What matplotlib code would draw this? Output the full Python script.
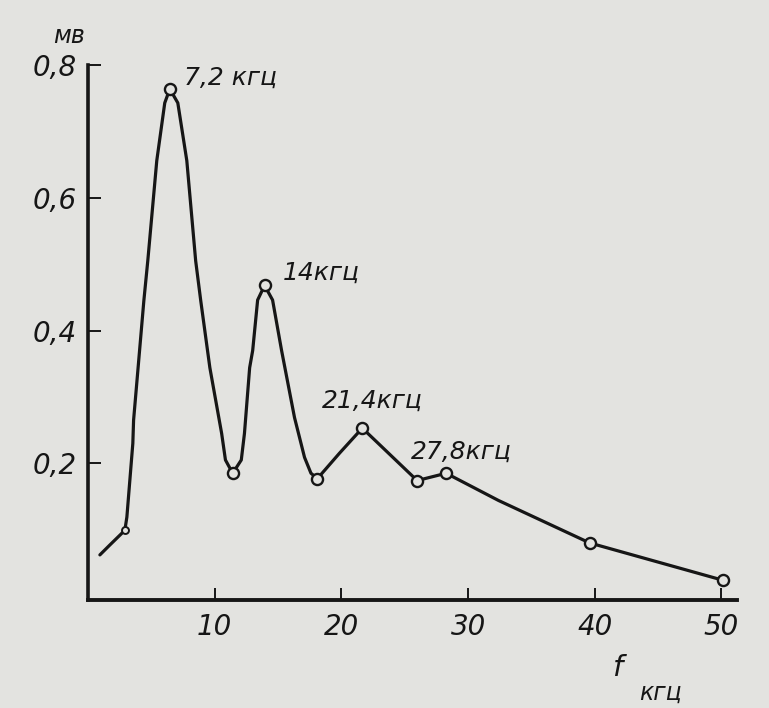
import matplotlib.pyplot as plt

# traced curve (kHz, mV)
curve_f = [0.94, 1.73, 2.91, 3.07, 3.54, 3.6, 4.41, 4.72, 5.43, 6.06, 6.46, 7.09, 7.80, 8.50,
           8.90, 9.62, 10.55, 10.85, 11.42, 12.10, 12.35, 12.76, 13.0, 13.39, 13.94, 14.57,
           15.28, 16.30, 17.09, 17.6, 18.11, 19.84, 21.65, 25.98, 28.27, 32.4, 39.6, 50.08]
curve_u = [0.062, 0.077, 0.099, 0.119, 0.230, 0.265, 0.445, 0.505, 0.656, 0.743, 0.764, 0.743, 0.656, 0.505,
           0.445, 0.344, 0.245, 0.205, 0.185, 0.205, 0.245, 0.344, 0.370, 0.446, 0.468, 0.446,
           0.370, 0.269, 0.209, 0.185, 0.177, 0.215, 0.253, 0.174, 0.185, 0.144, 0.080, 0.024]

# measured points (circles)
pts_f = [6.46, 11.42, 13.94, 18.11, 21.65, 25.98, 28.27, 39.6, 50.08]
pts_u = [0.764, 0.185, 0.468, 0.177, 0.253, 0.174, 0.185, 0.080, 0.024]

peak_labels = ["7,2 кгц", "14кгц", "21,4кгц", "27,8кгц"]
peak_pos = [(7.6, 0.781), (15.35, 0.487), (18.5, 0.294), (25.5, 0.217)]

xticks = [10, 20, 30, 40, 50]
yticks = [0.2, 0.4, 0.6, 0.8]
ytick_labels = ["0,2", "0,4", "0,6", "0,8"]

bg = '#e3e3e0'
ink = '#161616'
plt.rcParams['font.family'] = 'DejaVu Sans'
plt.rcParams['font.style'] = 'italic'

fig = plt.figure(figsize=(7.69, 7.08), dpi=100, facecolor=bg)
ax = fig.add_axes([0.1144, 0.1525, 0.8436, 0.7556])
ax.set_facecolor(bg)

ax.plot(curve_f, curve_u, color=ink, lw=2.3, solid_capstyle='round', solid_joinstyle='round')
ax.plot(pts_f, pts_u, 'o', ms=8, mfc=bg, mec=ink, mew=1.7)
ax.plot([2.91], [0.099], 'o', ms=5, mfc=bg, mec=ink, mew=1.4)

for txt, (x, y) in zip(peak_labels, peak_pos):
    ax.text(x, y, txt, fontsize=18, color=ink, ha='left', va='center', style='italic')

ax.set_xlim(0, 51.2)
ax.set_ylim(-0.006, 0.8)
for s in ['top', 'right']:
    ax.spines[s].set_visible(False)
ax.spines['left'].set_linewidth(2.6)
ax.spines['bottom'].set_linewidth(2.8)
ax.spines['left'].set_color(ink)
ax.spines['bottom'].set_color(ink)

ax.set_xticks(xticks)
ax.set_xticklabels([str(t) for t in xticks])
ax.set_yticks(yticks)
ax.set_yticklabels(ytick_labels)
ax.tick_params(direction='in', length=9, width=1.4, color=ink, labelsize=20, labelcolor=ink)
ax.tick_params(axis='x', pad=9)
ax.tick_params(axis='y', pad=8)

fig.text(69 / 769, 1 - 36 / 708, "мв", fontsize=17, color=ink, ha='center', va='center', style='italic')
fig.text(617 / 769, 1 - 668 / 708, "f", fontsize=21, color=ink, ha='center', va='center', style='italic')
fig.text(660 / 769, 1 - 693 / 708, "кгц", fontsize=17, color=ink, ha='center', va='center', style='italic')

plt.savefig("out.png", dpi=100, facecolor=bg)
